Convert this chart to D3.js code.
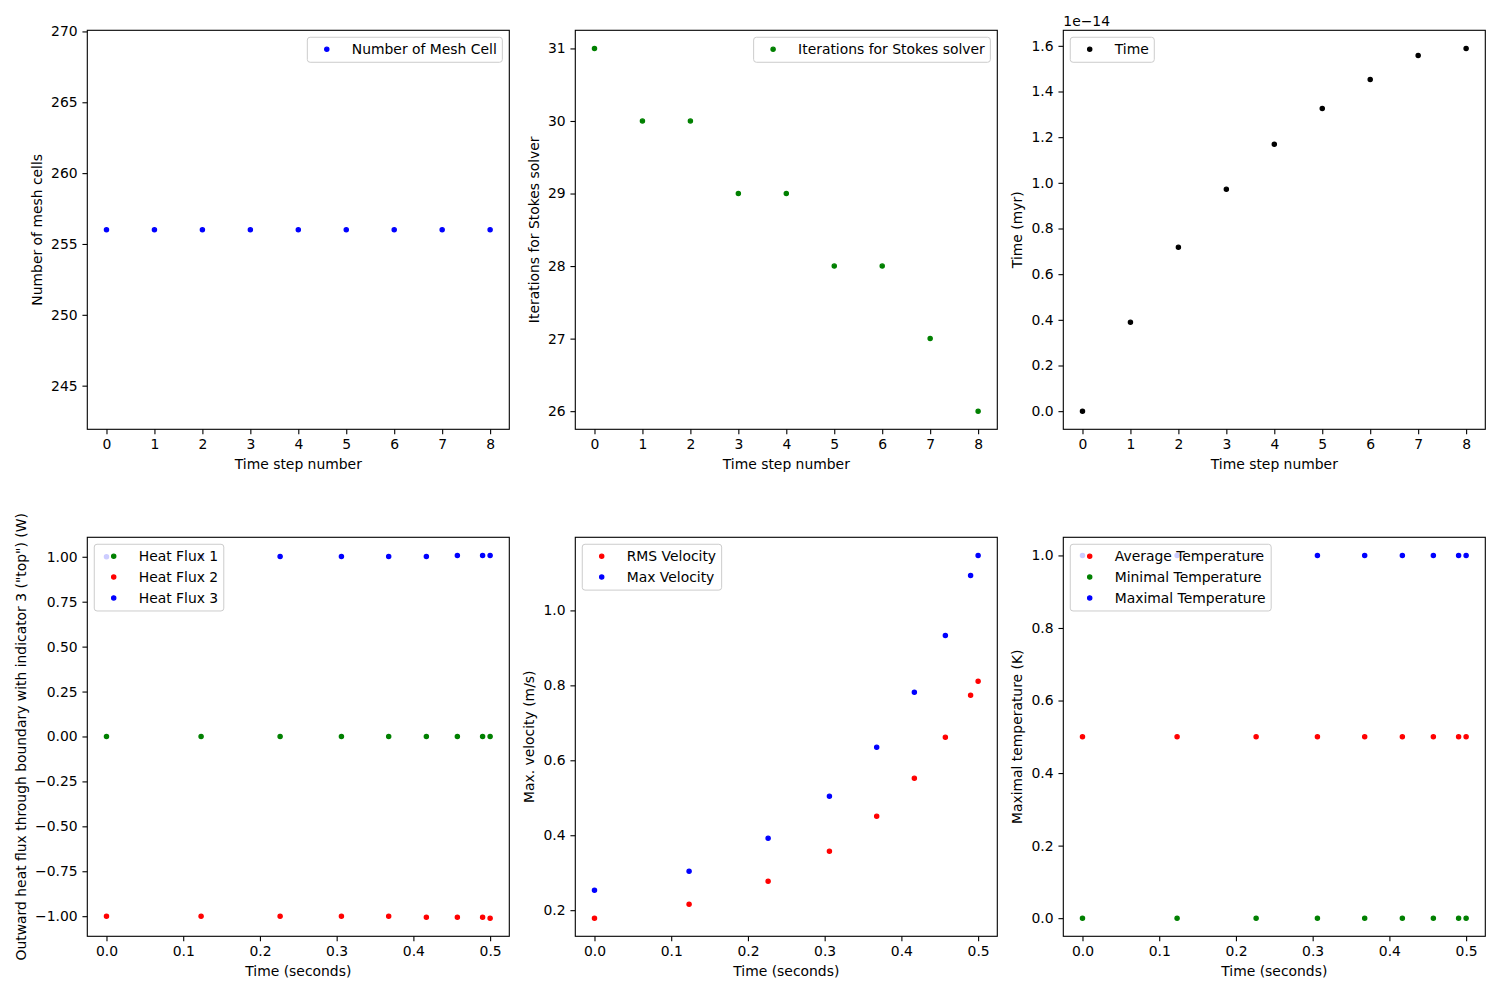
<!DOCTYPE html>
<html>
<head>
<meta charset="utf-8">
<script src="https://cdn.jsdelivr.net/npm/d3@7"></script>
<style>
body { margin: 0; background: #fff; }
text { font-family: "DejaVu Sans", sans-serif; font-size: 13.9px; fill: #000; }
</style>
</head>
<body>
<svg id="fig" width="1500" height="1000"></svg>
<script>
/*global d3*/
// data
var steps = [0, 1, 2, 3, 4, 5, 6, 7, 8];
var meshCells = [256, 256, 256, 256, 256, 256, 256, 256, 256];
var stokesIterations = [31, 30, 30, 29, 29, 28, 28, 27, 26];
var modelTime = [0, 0.3895e-14, 0.7177e-14, 0.9716e-14, 1.1685e-14, 1.326e-14, 1.453e-14, 1.558e-14, 1.5886e-14];

var timeSeconds = [0, 0.1233, 0.2263, 0.3062, 0.3678, 0.4169, 0.4573, 0.4902, 0.5];
var heatFlux1 = [0, 0, 0, 0, 0, 0, 0, 0, 0];
var heatFlux2 = [-1, -1, -1, -1, -1, -1.0056, -1.0056, -1.0056, -1.011];
var heatFlux3 = [1, 1, 1.002, 1.002, 1.002, 1.002, 1.0074, 1.0074, 1.0074];
var rmsVelocity = [0.1787, 0.216, 0.2773, 0.3573, 0.4507, 0.552, 0.6613, 0.7733, 0.8107];
var maxVelocity = [0.2533, 0.304, 0.392, 0.504, 0.6347, 0.7813, 0.9333, 1.0933, 1.1467];
var avgTemperature = [0.5, 0.5, 0.5, 0.5, 0.5, 0.5, 0.5, 0.5, 0.5];
var minTemperature = [0, 0, 0, 0, 0, 0, 0, 0, 0];
var maxTemperature = [1, 1, 1, 1, 1, 1, 1, 1, 1];

// tick labels
var stepTicks = [0, 1, 2, 3, 4, 5, 6, 7, 8];
var secondTicks = [0, 0.1, 0.2, 0.3, 0.4, 0.5];
var meshTicks = [245, 250, 255, 260, 265, 270];
var stokesTicks = [26, 27, 28, 29, 30, 31];
var modelTimeTicks = [0, 0.2e-14, 0.4e-14, 0.6e-14, 0.8e-14, 1.0e-14, 1.2e-14, 1.4e-14, 1.6e-14];
var fluxTicks = [-1, -0.75, -0.5, -0.25, 0, 0.25, 0.5, 0.75, 1];
var velocityTicks = [0.2, 0.4, 0.6, 0.8, 1.0];
var temperatureTicks = [0, 0.2, 0.4, 0.6, 0.8, 1.0];

var blue = "#0000ff", green = "#008000", red = "#ff0000", black = "#000000";

var fs = 13.9,
    tickLen = 4.86,
    axW = 422, axH = 399,
    colX = [87.3, 575.3, 1063.3],
    rowY = [30.3, 537.3];

var panels = [
    { col: 0, row: 0, x: steps, xTicks: stepTicks, xFmt: d3.format("d"),
      yTicks: meshTicks, yFmt: d3.format("d"), legend: "right",
      xLabel: "Time step number", yLabel: "Number of mesh cells",
      series: [{ y: meshCells, color: blue, label: "Number of Mesh Cell" }] },
    { col: 1, row: 0, x: steps, xTicks: stepTicks, xFmt: d3.format("d"),
      yTicks: stokesTicks, yFmt: d3.format("d"), legend: "right",
      xLabel: "Time step number", yLabel: "Iterations for Stokes solver",
      series: [{ y: stokesIterations, color: green, label: "Iterations for Stokes solver" }] },
    { col: 2, row: 0, x: steps, xTicks: stepTicks, xFmt: d3.format("d"),
      yTicks: modelTimeTicks, yFmt: function (v) { return d3.format(".1f")(v / 1e-14); },
      offsetText: "1e\u221214", legend: "left",
      xLabel: "Time step number", yLabel: "Time (myr)",
      series: [{ y: modelTime, color: black, label: "Time" }] },
    { col: 0, row: 1, x: timeSeconds, xTicks: secondTicks, xFmt: d3.format(".1f"),
      yTicks: fluxTicks, yFmt: d3.format(".2f"), legend: "left",
      xLabel: "Time (seconds)", yLabel: "Outward heat flux through boundary with indicator 3 (\"top\") (W)",
      series: [{ y: heatFlux1, color: green, label: "Heat Flux 1" },
               { y: heatFlux2, color: red, label: "Heat Flux 2" },
               { y: heatFlux3, color: blue, label: "Heat Flux 3" }] },
    { col: 1, row: 1, x: timeSeconds, xTicks: secondTicks, xFmt: d3.format(".1f"),
      yTicks: velocityTicks, yFmt: d3.format(".1f"), legend: "left",
      xLabel: "Time (seconds)", yLabel: "Max. velocity (m/s)",
      series: [{ y: rmsVelocity, color: red, label: "RMS Velocity" },
               { y: maxVelocity, color: blue, label: "Max Velocity" }] },
    { col: 2, row: 1, x: timeSeconds, xTicks: secondTicks, xFmt: d3.format(".1f"),
      yTicks: temperatureTicks, yFmt: d3.format(".1f"), legend: "left",
      xLabel: "Time (seconds)", yLabel: "Maximal temperature (K)",
      series: [{ y: avgTemperature, color: red, label: "Average Temperature" },
               { y: minTemperature, color: green, label: "Minimal Temperature" },
               { y: maxTemperature, color: blue, label: "Maximal Temperature" }] }
];

// matplotlib-like autoscale with 5% margins
function padded(values) {
    var lo = d3.min(values), hi = d3.max(values);
    if (lo === hi) {
        var d = lo === 0 ? 0.05 : Math.abs(lo) * 0.05;
        lo -= d; hi += d;
    }
    var m = (hi - lo) * 0.05;
    return [lo - m, hi + m];
}

var svg = d3.select("#fig");
svg.append("rect").attr("width", 1500).attr("height", 1000).attr("fill", "#fff");

panels.forEach(function (p) {
    var g = svg.append("g")
        .attr("transform", "translate(" + colX[p.col] + "," + rowY[p.row] + ")");

    var allY = [].concat.apply([], p.series.map(function (s) { return s.y; }));
    var x = d3.scaleLinear().domain(padded(p.x)).range([0, axW]);
    var y = d3.scaleLinear().domain(padded(allY)).range([axH, 0]);

    var gx = g.append("g")
        .attr("transform", "translate(0," + axH + ")")
        .call(d3.axisBottom(x).tickValues(p.xTicks).tickFormat(p.xFmt)
            .tickSize(tickLen).tickPadding(tickLen));
    var gy = g.append("g")
        .call(d3.axisLeft(y).tickValues(p.yTicks).tickFormat(p.yFmt)
            .tickSize(tickLen).tickPadding(tickLen));

    [gx, gy].forEach(function (a) {
        a.attr("font-size", null).attr("font-family", null);
        a.select(".domain").remove();
        a.selectAll(".tick line").attr("stroke", "#000").attr("stroke-width", 1.1);
        a.selectAll(".tick text").style("font-size", fs + "px");
    });

    // points
    p.series.forEach(function (s) {
        g.append("g").selectAll("circle")
            .data(s.y)
            .enter().append("circle")
            .attr("cx", function (d, i) { return x(p.x[i]); })
            .attr("cy", function (d) { return y(d); })
            .attr("r", 2.1)
            .attr("fill", s.color)
            .attr("stroke", s.color)
            .attr("stroke-width", 1.3);
    });

    // frame
    g.append("rect")
        .attr("width", axW).attr("height", axH)
        .attr("fill", "none").attr("stroke", "#000").attr("stroke-width", 1.1);

    // labels
    g.append("text")
        .attr("x", axW / 2).attr("y", axH + 35)
        .attr("text-anchor", "middle").attr("dy", "0.35em")
        .text(p.xLabel);

    var tw = d3.max(gy.selectAll(".tick text").nodes(), function (n) { return n.getComputedTextLength(); });
    var lx = -(tickLen * 2 + tw + 5.56 + 8.5);
    g.append("text")
        .attr("transform", "translate(" + lx + "," + (axH / 2) + ") rotate(-90)")
        .attr("text-anchor", "middle").attr("dy", "0.35em")
        .text(p.yLabel);

    if (p.offsetText) {
        g.append("text").attr("x", 0).attr("y", -4.5).text(p.offsetText);
    }

    drawLegend(g, p.series, p.legend);
});

function drawLegend(g, series, loc) {
    var pad = 0.4 * fs, hl = 2 * fs, htp = 0.8 * fs, ls = 0.5 * fs, bap = 0.5 * fs;
    var lg = g.append("g");
    var box = lg.append("rect");
    var texts = series.map(function (s, i) {
        return lg.append("text")
            .attr("x", pad + hl + htp)
            .attr("y", pad + fs / 2 + i * (fs + ls) - 0.5)
            .attr("dy", "0.35em")
            .text(s.label);
    });
    series.forEach(function (s, i) {
        lg.append("circle")
            .attr("cx", pad + hl / 2)
            .attr("cy", pad + fs / 2 + i * (fs + ls) - 0.5)
            .attr("r", 2.1)
            .attr("fill", s.color)
            .attr("stroke", s.color)
            .attr("stroke-width", 1.3);
    });
    var tw = d3.max(texts, function (t) { return t.node().getComputedTextLength(); });
    var bw = pad * 2 + hl + htp + tw,
        bh = pad * 2 + series.length * fs + (series.length - 1) * ls;
    box.attr("width", bw).attr("height", bh)
        .attr("rx", 2.8).attr("ry", 2.8)
        .attr("fill", "#fff").attr("fill-opacity", 0.8)
        .attr("stroke", "#cccccc").attr("stroke-width", 1);
    var x0 = loc === "right" ? axW - bap - bw : bap;
    lg.attr("transform", "translate(" + x0 + "," + bap + ")");
}
</script>
</body>
</html>
